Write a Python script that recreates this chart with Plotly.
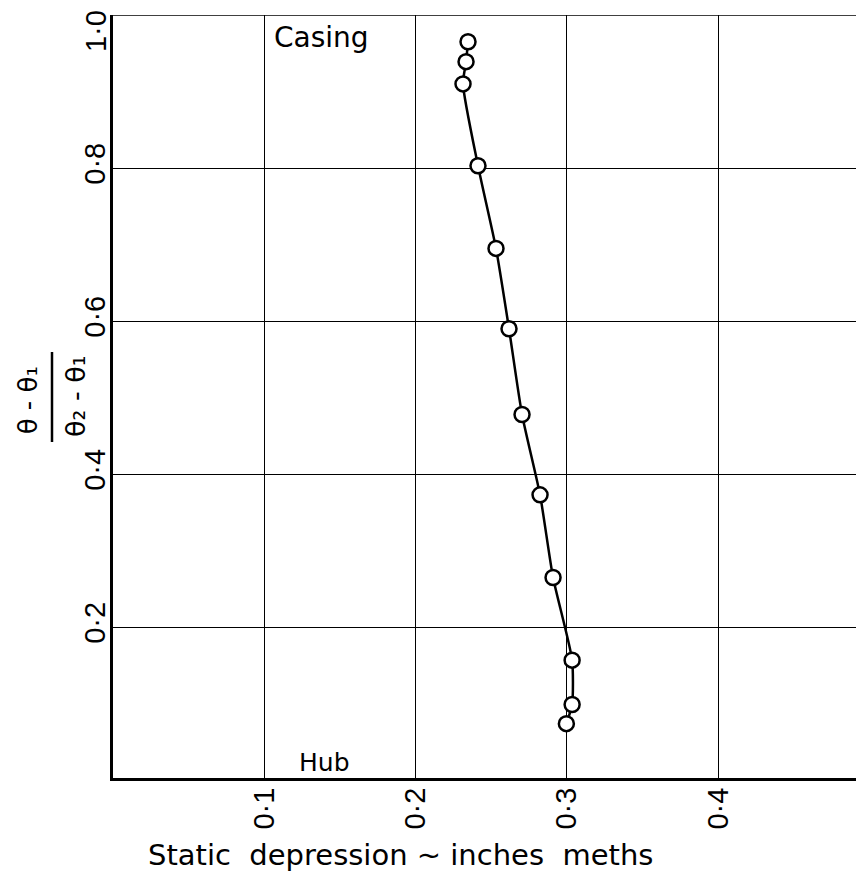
import plotly.graph_objects as go

# Data
static_depression = [0.2346, 0.2333, 0.2313, 0.2412, 0.2531, 0.2617, 0.2703,
                     0.2822, 0.2908, 0.3034, 0.3034, 0.2996]
radial_position = [0.965, 0.939, 0.910, 0.803, 0.695, 0.590, 0.478,
                   0.373, 0.265, 0.157, 0.099, 0.074]

x_ticks = [0.1, 0.2, 0.3, 0.4]
x_tick_labels = ["0·1", "0·2", "0·3", "0·4"]
y_ticks = [0.2, 0.4, 0.6, 0.8]
y_tick_labels = ["0·2", "0·4", "0·6", "0·8"]
y_top_label = "1·0"

FONT = "DejaVu Sans"
TICKFONT = "Liberation Sans"

fig = go.Figure()
fig.add_trace(go.Scatter(
    x=static_depression, y=radial_position,
    mode="lines+markers",
    line=dict(color="black", width=2.5, shape="spline", smoothing=0.6),
    marker=dict(symbol="circle", size=15, color="white",
                line=dict(color="black", width=2.5)),
    showlegend=False,
))

fig.update_layout(
    width=848, height=875,
    margin=dict(l=105, r=0, t=7, b=105),
    paper_bgcolor="white", plot_bgcolor="white",
    font=dict(family=FONT, size=24, color="black"),
    xaxis=dict(
        range=[0, 0.491], tickvals=x_ticks, ticktext=x_tick_labels,
        tickangle=-90, showgrid=True, gridcolor="black", gridwidth=1.2,
        showline=True, linecolor="black", linewidth=3,
        ticks="", zeroline=False, ticklabelstandoff=-5,
        tickfont=dict(size=29, family=TICKFONT),
    ),
    yaxis=dict(
        range=[0.003, 1.0], tickvals=y_ticks, ticktext=y_tick_labels,
        tickangle=-90, showgrid=True, gridcolor="black", gridwidth=1.2,
        showline=True, linecolor="black", linewidth=2.5,
        ticks="", zeroline=False, ticklabelstandoff=-6,
        tickfont=dict(size=29, family=TICKFONT),
    ),
)

# Top border line at 1.0
fig.add_shape(type="line", xref="paper", yref="y", x0=0, x1=1, y0=1.0, y1=1.0,
              line=dict(color="black", width=1.5))

# Top y tick label
fig.add_annotation(x=-0.0229, y=0.979, xref="paper", yref="paper",
                   text=y_top_label, textangle=-90, xanchor="center",
                   yanchor="middle", showarrow=False,
                   font=dict(size=29, family=TICKFONT))

# Labels inside plot
fig.add_annotation(x=0.1375, y=0.97, xref="x", yref="y", text="Casing",
                   showarrow=False, font=dict(size=28, family=FONT))
fig.add_annotation(x=0.140, y=0.0235, xref="x", yref="y", text="Hub",
                   showarrow=False, font=dict(size=25, family=FONT))

# X axis title
fig.add_annotation(x=0.3876, y=-0.1009, xref="paper", yref="paper",
                   xanchor="center", yanchor="middle",
                   text="Static  depression ~ inches  meths",
                   showarrow=False, font=dict(size=29, family=FONT))

# Y axis title as a fraction
fig.add_annotation(x=-0.1140, y=0.4954, xref="paper", yref="paper",
                   xanchor="center", yanchor="middle",
                   text="θ - θ₁", textangle=-90, borderpad=0,
                   showarrow=False, font=dict(size=26, family=FONT))
fig.add_annotation(x=-0.0498, y=0.5007, xref="paper", yref="paper",
                   xanchor="center", yanchor="middle",
                   text="θ₂ - θ₁", textangle=-90, borderpad=0,
                   showarrow=False, font=dict(size=27, family=FONT))
fig.add_shape(type="line", xref="paper", yref="paper",
              x0=-0.0821, x1=-0.0821, y0=0.4404, y1=0.5583,
              line=dict(color="black", width=2.5))

fig.write_html("out.html")
